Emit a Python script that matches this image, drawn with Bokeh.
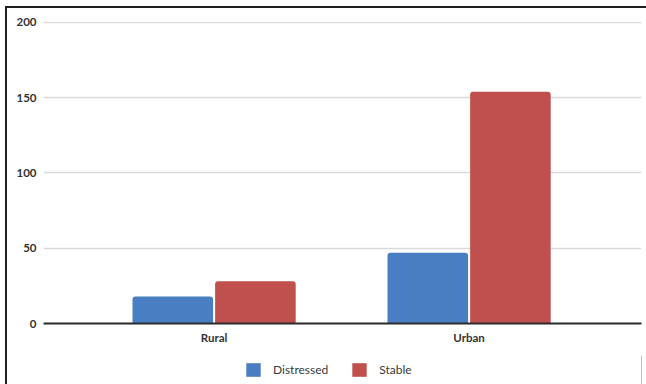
from bokeh.plotting import figure
from bokeh.layouts import column
from bokeh.models import Range1d, Legend, LegendItem, FixedTicker, ColumnDataSource
from bokeh.embed import file_html
from bokeh.resources import INLINE

# Data
categories = ["Rural", "Urban"]
distressed = [18, 47]
stable = [28, 154]
y_ticks = [0, 50, 100, 150, 200]
series_names = ["Distressed", "Stable"]

BLUE = "#4a7ec2"
RED = "#c0504e"
FONT = "Lato"
LINE = "#1e1e1e"

idx = list(range(len(categories)))
src = ColumnDataSource(dict(
    x_d=[i - 0.162 for i in idx],
    x_s=[i + 0.162 for i in idx],
    distressed=distressed,
    stable=stable,
))

# main chart
p = figure(
    width=646, height=355,
    x_range=Range1d(-0.669, 1.676),
    y_range=Range1d(0, 200.66),
    output_backend="svg", toolbar_location=None,
    min_border_left=43, min_border_right=5,
    min_border_top=21, min_border_bottom=32,
)
p.background_fill_color = None
p.border_fill_color = None
p.outline_line_color = None
p.styles = {
    "background": (
        f"linear-gradient({LINE},{LINE}) 5px 6px / 641px 2px no-repeat, "
        f"linear-gradient({LINE},{LINE}) 5px 6px / 2px 349px no-repeat, white"
    )
}

p.vbar(x="x_d", top="distressed", width=0.316, source=src,
       fill_color=BLUE, line_color=None, border_radius=(3, 3, 0, 0))
p.vbar(x="x_s", top="stable", width=0.316, source=src,
       fill_color=RED, line_color=None, border_radius=(3, 3, 0, 0))

# y axis: labels only
p.yaxis.ticker = FixedTicker(ticks=y_ticks)
p.yaxis.axis_line_color = None
p.yaxis.major_tick_line_color = None
p.yaxis.minor_tick_line_color = None
p.yaxis.major_label_standoff = 1
p.yaxis.major_label_text_font = FONT
p.yaxis.major_label_text_font_size = "11.5px"
p.yaxis.major_label_text_color = "#333333"
p.yaxis.major_label_text_font_style = "bold"

# x axis: baseline and category labels
p.xaxis.ticker = FixedTicker(ticks=idx)
p.xaxis.major_label_overrides = {i: c for i, c in zip(idx, categories)}
p.xaxis.axis_line_color = "#2a2a2a"
p.xaxis.axis_line_width = 2
p.xaxis.major_tick_line_color = None
p.xaxis.minor_tick_line_color = None
p.xaxis.major_label_standoff = 1
p.xaxis.major_label_text_font = FONT
p.xaxis.major_label_text_font_size = "11.5px"
p.xaxis.major_label_text_color = "#333333"
p.xaxis.major_label_text_font_style = "bold"

p.xgrid.grid_line_color = None
p.ygrid.grid_line_color = "#dadada"
p.ygrid.grid_line_width = 1.5

# legend strip underneath the chart (its frame lines up with the chart frame)
lg = figure(
    width=646, height=29,
    x_range=Range1d(0, 1), y_range=Range1d(0, 1),
    x_axis_location=None, y_axis_location=None,
    output_backend="svg", toolbar_location=None,
    min_border=0,
)
lg.background_fill_color = None
lg.border_fill_color = None
lg.outline_line_color = None
lg.grid.grid_line_color = None
lg.styles = {
    "background": f"linear-gradient({LINE},{LINE}) 5px 0 / 2px 29px no-repeat, white"
}
# key swatches, kept outside the strip's visible range
key_src = ColumnDataSource(dict(x=[5], top=[1]))
key_d = lg.vbar(x="x", top="top", width=0.1, source=key_src,
                fill_color=BLUE, line_color=None)
key_s = lg.vbar(x="x", top="top", width=0.1, source=key_src,
                fill_color=RED, line_color=None)

legend = Legend(
    items=[LegendItem(label=series_names[0], renderers=[key_d]),
           LegendItem(label=series_names[1], renderers=[key_s])],
    orientation="horizontal",
    location=(201, 6),
    glyph_width=18, glyph_height=17,
    label_text_font=FONT, label_text_font_size="12px",
    label_text_color="#3a3a3a", label_standoff=11, spacing=22,
    border_line_color=None, background_fill_color=None,
    padding=0, margin=0,
)
lg.add_layout(legend, "center")

open("out.html", "w").write(file_html(column(p, lg, spacing=0), INLINE))
